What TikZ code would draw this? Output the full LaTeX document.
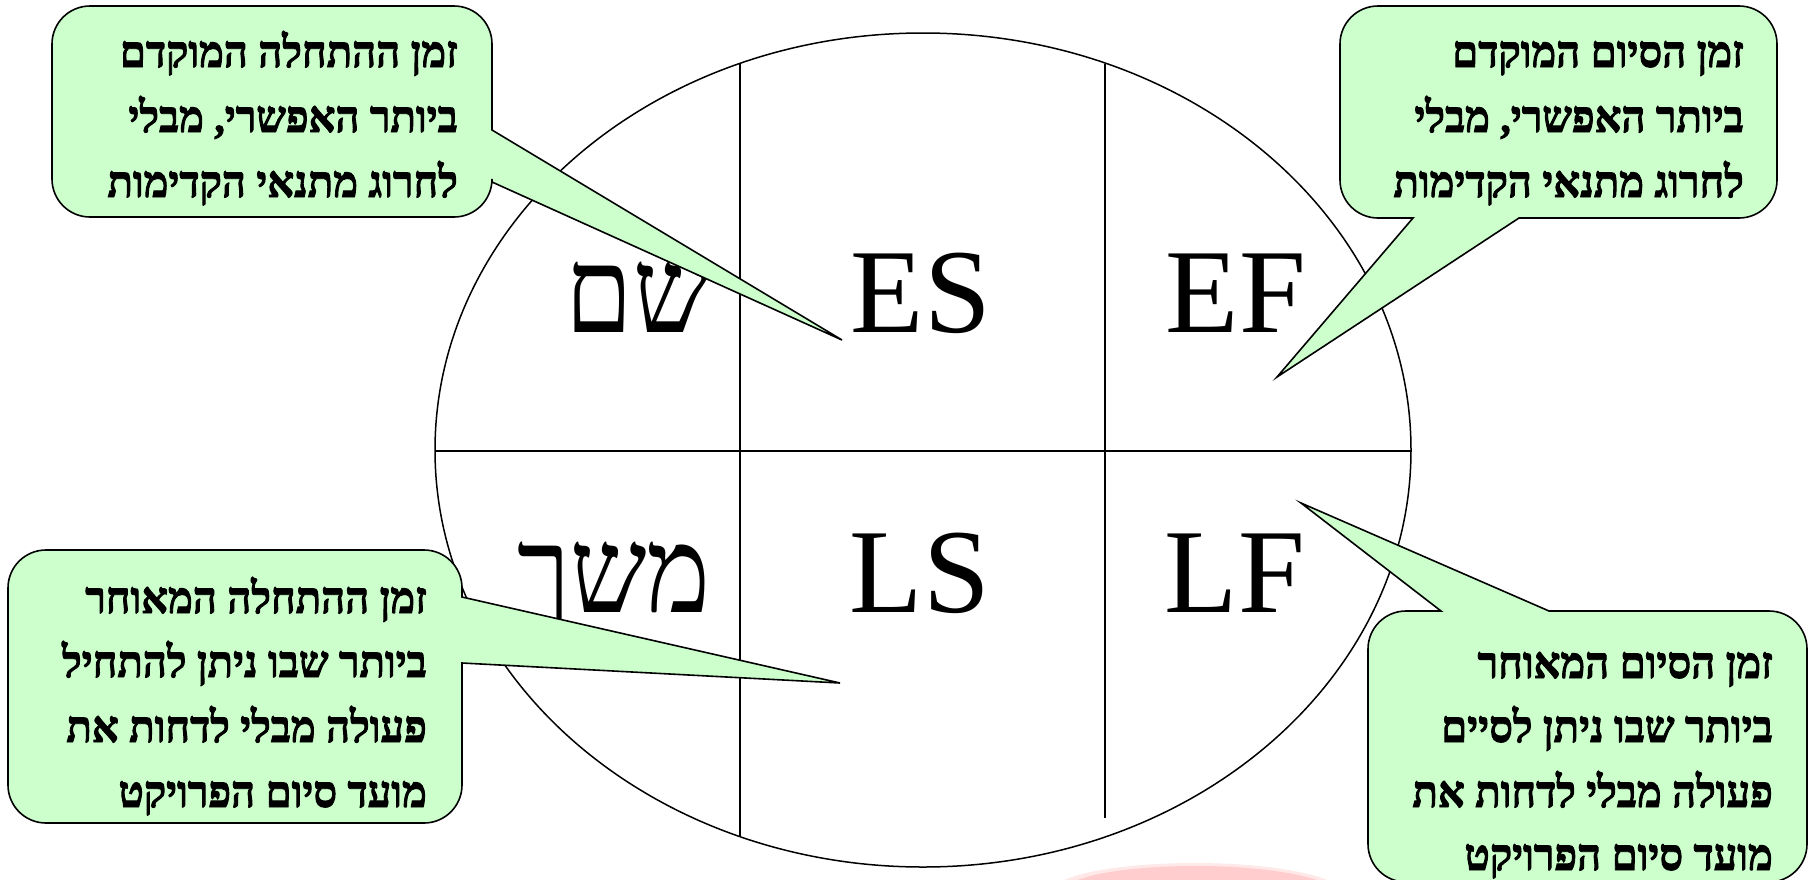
\documentclass[tikz,border=0pt]{standalone}
\usepackage{fontspec}
\setmainfont{Liberation Serif}
\newfontfamily\hebfont[Script=Hebrew]{Liberation Serif}
\newfontfamily\hebbold[Script=Hebrew, FakeBold=2.2]{Liberation Serif Bold}
\TeXXeTstate=1
\definecolor{bubblegreen}{RGB}{204,255,204}
\definecolor{swooshout}{RGB}{255,232,232}
\definecolor{swooshin}{RGB}{255,205,205}
\newcommand{\heb}[1]{\scalebox{0.9}[1]{\beginR #1\endR}}
\newcommand{\hebb}[1]{\scalebox{0.95}[1]{\beginR #1\endR}}
\tikzset{
  bubble/.style={fill=bubblegreen, draw=black, line width=1.6, line join=miter},
  bigtxt/.style={inner sep=0, font=\fontsize{120}{130}\selectfont},
  bubtxt/.style={inner sep=0, anchor=base east, font=\hebbold\fontsize{44}{50}\selectfont},
  divline/.style={draw=black, line width=1.1},
}
\begin{document}
\begin{tikzpicture}[x=1pt, y=-1pt]
\useasboundingbox (0,0) rectangle (1816,879);
% faint watermark swoosh
\fill[swooshout] (1062,881) .. controls (1110,858) and (1270,856) .. (1330,881) -- cycle;
\fill[swooshin] (1075,881) .. controls (1120,862) and (1260,860) .. (1320,881) -- cycle;
% ellipse and dividing lines
\draw[line width=1.5] (923,450) ellipse [x radius=488, y radius=417];
\draw[line width=2] (435,451) -- (1411,451);
\draw[divline] (740,63) -- (740,837);
\draw[divline] (1105,64) -- (1105,818);
% big labels
\node[bigtxt, anchor=base] (es) at (921,332) {ES};
\node[bigtxt, anchor=base] (ef) at (1236,332) {EF};
\node[bigtxt, anchor=base] (ls) at (920,612) {LS};
\node[bigtxt, anchor=base] (lf) at (1235,612) {LF};
\node[bigtxt, anchor=base east] (shem) at (710,332) {\hebfont\heb{שם}};
\node[bigtxt, anchor=base east] (meshech) at (711,612) {\hebfont\heb{משך}};
% pointer tips
\coordinate (t1) at (842,340);
\coordinate (t2) at (1277,377);
\coordinate (t3) at (840,683);
\coordinate (t4) at (1301,503);
% bubble 1 (top left)
\draw[bubble] (90,6) -- (454,6) arc[start angle=270, end angle=360, radius=38]
  -- (492,130) -- (t1) -- (492,182) -- (492,179) arc[start angle=0, end angle=90, radius=38]
  -- (90,217) arc[start angle=90, end angle=180, radius=38]
  -- (52,44) arc[start angle=180, end angle=270, radius=38] -- cycle;
% bubble 2 (top right)
\draw[bubble] (1378,6) -- (1739,6) arc[start angle=270, end angle=360, radius=38]
  -- (1777,180) arc[start angle=0, end angle=90, radius=38]
  -- (1519,218) -- (t2) -- (1413,218) -- (1378,218) arc[start angle=90, end angle=180, radius=38]
  -- (1340,44) arc[start angle=180, end angle=270, radius=38] -- cycle;
% bubble 3 (bottom left)
\draw[bubble] (46,550) -- (424,550) arc[start angle=270, end angle=360, radius=38]
  -- (462,597) -- (t3) -- (462,663) -- (462,785) arc[start angle=0, end angle=90, radius=38]
  -- (46,823) arc[start angle=90, end angle=180, radius=38]
  -- (8,588) arc[start angle=180, end angle=270, radius=38] -- cycle;
% bubble 4 (bottom right)
\draw[bubble] (1406,611) -- (1441,611) -- (t4) -- (1549,611) -- (1769,611)
  arc[start angle=270, end angle=360, radius=38]
  -- (1807,844) arc[start angle=0, end angle=90, radius=38]
  -- (1406,882) arc[start angle=90, end angle=180, radius=38]
  -- (1368,649) arc[start angle=180, end angle=270, radius=38] -- cycle;
% bubble texts
\node[bubtxt] (a1) at (458,67) {\hebb{זמן ההתחלה המוקדם}};
\node[bubtxt] (a2) at (458,132) {\hebb{ביותר האפשרי, מבלי}};
\node[bubtxt] (a3) at (458,197) {\hebb{לחרוג מתנאי הקדימות}};
\node[bubtxt] (b1) at (1744,67) {\hebb{זמן הסיום המוקדם}};
\node[bubtxt] (b2) at (1744,132) {\hebb{ביותר האפשרי, מבלי}};
\node[bubtxt] (b3) at (1744,197) {\hebb{לחרוג מתנאי הקדימות}};
\node[bubtxt] (c1) at (427,613) {\hebb{זמן ההתחלה המאוחר}};
\node[bubtxt] (c2) at (427,677) {\hebb{ביותר שבו ניתן להתחיל}};
\node[bubtxt] (c3) at (427,742) {\hebb{פעולה מבלי לדחות את}};
\node[bubtxt] (c4) at (427,807) {\hebb{מועד סיום הפרויקט}};
\node[bubtxt] (d1) at (1773,678) {\hebb{זמן הסיום המאוחר}};
\node[bubtxt] (d2) at (1773,742) {\hebb{ביותר שבו ניתן לסיים}};
\node[bubtxt] (d3) at (1773,807) {\hebb{פעולה מבלי לדחות את}};
\node[bubtxt] (d4) at (1773,870) {\hebb{מועד סיום הפרויקט}};
\end{tikzpicture}
\end{document}
